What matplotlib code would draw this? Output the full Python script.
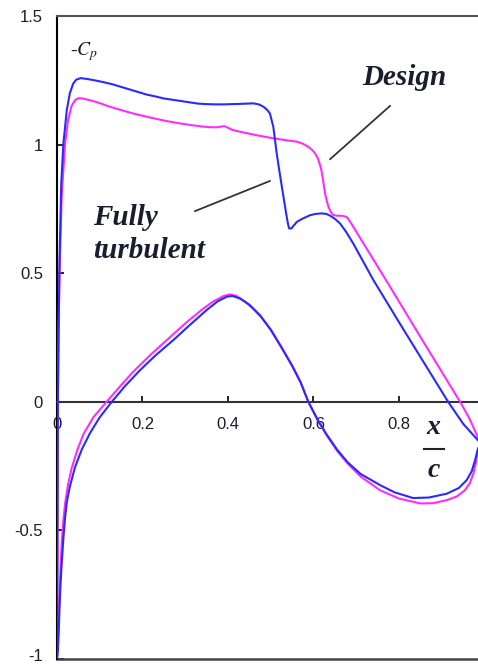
import matplotlib
matplotlib.use("Agg")
import matplotlib.pyplot as plt
from matplotlib.transforms import ScaledTranslation

# -Cp along the chord, upper and lower surfaces
turb_upper_x = [0.0, 0.001, 0.002, 0.004, 0.006, 0.01, 0.015, 0.023, 0.03, 0.038,
                0.045, 0.055, 0.07, 0.09, 0.11, 0.13, 0.15, 0.17, 0.19, 0.21,
                0.23, 0.25, 0.27, 0.29, 0.31, 0.33, 0.35, 0.37, 0.39, 0.41,
                0.43, 0.459, 0.472, 0.483, 0.492, 0.498, 0.502, 0.506, 0.514, 0.52,
                0.526, 0.531, 0.536, 0.54, 0.543, 0.548, 0.554, 0.561, 0.575, 0.592,
                0.605, 0.619, 0.63, 0.639, 0.65, 0.662, 0.676, 0.693, 0.74, 0.80,
                0.85, 0.915, 0.95, 0.985, 1.0]
turb_upper_y = [-1.0, -0.6, 0.0, 0.3, 0.55, 0.85, 1.005, 1.135, 1.2, 1.238,
                1.253, 1.259, 1.256, 1.25, 1.243, 1.235, 1.225, 1.215, 1.205, 1.195,
                1.188, 1.18, 1.175, 1.17, 1.165, 1.16, 1.158, 1.157, 1.157, 1.158,
                1.159, 1.161, 1.157, 1.148, 1.135, 1.122, 1.096, 1.07, 0.966, 0.9,
                0.837, 0.785, 0.733, 0.695, 0.675, 0.674, 0.686, 0.70, 0.713, 0.726,
                0.731, 0.733, 0.731, 0.724, 0.712, 0.694, 0.662, 0.616, 0.474, 0.31,
                0.175, 0.0, -0.085, -0.15, -0.17]

turb_lower_x = [0.0, 0.002, 0.004, 0.006, 0.008, 0.011, 0.015, 0.019, 0.023, 0.03,
                0.042, 0.058, 0.077, 0.10, 0.128, 0.16, 0.194, 0.23, 0.272, 0.31,
                0.35, 0.375, 0.397, 0.41, 0.428, 0.45, 0.475, 0.50, 0.525, 0.55,
                0.57, 0.588, 0.61, 0.63, 0.655, 0.68, 0.71, 0.756, 0.79, 0.833,
                0.87, 0.912, 0.94, 0.958, 0.97, 0.978, 0.985, 1.0]
turb_lower_y = [-1.0, -0.97, -0.9, -0.8, -0.72, -0.63, -0.53, -0.45, -0.39, -0.33,
                -0.255, -0.185, -0.122, -0.06, 0.0, 0.063, 0.123, 0.18, 0.24, 0.298,
                0.357, 0.39, 0.409, 0.412, 0.402, 0.378, 0.337, 0.28, 0.212, 0.14,
                0.075, 0.0, -0.07, -0.125, -0.185, -0.235, -0.28, -0.324, -0.352, -0.374,
                -0.372, -0.357, -0.335, -0.305, -0.27, -0.227, -0.18, -0.16]

design_upper_x = [0.0, 0.001, 0.002, 0.004, 0.006, 0.011, 0.019, 0.026, 0.034, 0.042,
                  0.05, 0.06, 0.08, 0.10, 0.12, 0.14, 0.16, 0.18, 0.20, 0.22,
                  0.24, 0.26, 0.28, 0.30, 0.32, 0.34, 0.36, 0.375, 0.385, 0.392,
                  0.40, 0.41, 0.43, 0.45, 0.47, 0.49, 0.506, 0.53, 0.561, 0.575,
                  0.588, 0.597, 0.604, 0.61, 0.614, 0.618, 0.621, 0.624, 0.627, 0.631,
                  0.635, 0.64, 0.646, 0.655, 0.665, 0.672, 0.679, 0.686, 0.693, 0.72,
                  0.771, 0.85, 0.943, 0.965, 0.985, 1.0]
design_upper_y = [-1.0, -0.6, 0.0, 0.3, 0.5, 0.8, 1.005, 1.096, 1.15, 1.173,
                  1.181, 1.18, 1.172, 1.162, 1.15, 1.14, 1.13, 1.121, 1.113, 1.105,
                  1.098, 1.091, 1.085, 1.08, 1.075, 1.071, 1.068, 1.068, 1.071, 1.072,
                  1.066, 1.058, 1.05, 1.043, 1.036, 1.03, 1.025, 1.019, 1.012, 1.004,
                  0.992, 0.98, 0.966, 0.948, 0.928, 0.905, 0.876, 0.845, 0.811, 0.782,
                  0.759, 0.74, 0.727, 0.724, 0.724, 0.722, 0.717, 0.70, 0.681, 0.608,
                  0.47, 0.253, 0.0, -0.065, -0.14, -0.16]

design_lower_x = [0.0, 0.002, 0.004, 0.007, 0.011, 0.015, 0.019, 0.026, 0.034, 0.047,
                  0.062, 0.085, 0.116, 0.15, 0.18, 0.22, 0.26, 0.30, 0.34, 0.365,
                  0.39, 0.405, 0.42, 0.44, 0.46, 0.48, 0.50, 0.525, 0.55, 0.57,
                  0.588, 0.61, 0.63, 0.655, 0.68, 0.71, 0.756, 0.80, 0.85, 0.88,
                  0.912, 0.935, 0.954, 0.966, 0.974, 0.98, 0.984, 1.0]
design_lower_y = [-1.0, -0.93, -0.83, -0.7, -0.55, -0.46, -0.395, -0.32, -0.26, -0.19,
                  -0.125, -0.06, 0.0, 0.065, 0.12, 0.185, 0.245, 0.305, 0.36, 0.39,
                  0.412, 0.418, 0.412, 0.39, 0.36, 0.325, 0.282, 0.213, 0.142, 0.077,
                  0.0, -0.072, -0.128, -0.19, -0.24, -0.29, -0.344, -0.376, -0.395, -0.394,
                  -0.382, -0.368, -0.344, -0.315, -0.279, -0.235, -0.19, -0.16]

x_ticks = [0, 0.2, 0.4, 0.6, 0.8]
x_labels = ["0", "0.2", "0.4", "0.6", "0.8"]
y_ticks = [-1, -0.5, 0, 0.5, 1, 1.5]
y_labels = ["-1", "-0.5", "0", "0.5", "1", "1.5"]

BLUE = "#2a2aff"
MAGENTA = "#ff2cff"
INK = "#1c1c30"

plt.rcParams["mathtext.fontset"] = "stix"

fig = plt.figure(figsize=(4.78, 6.66), dpi=100)
ax = fig.add_axes([0.1192, 0.0105, 0.8944, 0.9652])

ax.plot(design_upper_x, design_upper_y, color=MAGENTA, lw=1.5, zorder=3)
ax.plot(design_lower_x, design_lower_y, color=MAGENTA, lw=1.5, zorder=3)
ax.plot(turb_upper_x, turb_upper_y, color=BLUE, lw=1.5, zorder=4)
ax.plot(turb_lower_x, turb_lower_y, color=BLUE, lw=1.5, zorder=4)

ax.set_xlim(0, 1)
ax.set_ylim(-1, 1.5)

# x axis sits on Cp = 0, box closes at the bottom
ax.spines["bottom"].set_position(("data", 0))
ax.spines["right"].set_visible(False)
for s in ["left", "top", "bottom"]:
    ax.spines[s].set_linewidth(1.5)
ax.spines["top"].set_color("#555555")
ax.spines["bottom"].set_color("#333333")
ax.axhline(-1, color="#444444", lw=1.8, clip_on=False, zorder=2)

ax.set_xticks(x_ticks)
ax.set_xticklabels(x_labels)
ax.set_yticks(y_ticks)
ax.set_yticklabels(y_labels)
ax.tick_params(axis="x", direction="in", length=4, width=1.2, pad=11,
               labelsize=12, labelcolor=INK)
ax.tick_params(axis="y", direction="in", length=5, width=1.2, pad=10,
               labelsize=12, labelcolor=INK)
for lab in ax.get_xticklabels() + ax.get_yticklabels():
    lab.set_family("Liberation Sans")

# lift the bottom "-1" a little so it stays inside the figure
low = ax.get_yticklabels()[0]
low.set_transform(low.get_transform() + ScaledTranslation(0, 3 / 72, fig.dpi_scale_trans))

serif = dict(family="Liberation Serif", style="italic", weight="bold", color=INK)
ax.text(0.03, 1.349, r"-$C_p$", fontsize=14, color=INK, family="Liberation Serif")
ax.text(0.713, 1.232, "Design", fontsize=21, **serif)
ax.text(0.084, 0.688, "Fully", fontsize=21, **serif)
ax.text(0.084, 0.558, "turbulent", fontsize=21, **serif)

# leader lines
ax.plot([0.779, 0.639], [1.151, 0.944], color="#333333", lw=1.3)
ax.plot([0.323, 0.498], [0.742, 0.859], color="#333333", lw=1.3)

# x/c axis label
ax.text(0.881, -0.099, "x", fontsize=20, ha="center", va="center", **serif)
ax.plot([0.858, 0.905], [-0.182, -0.182], color="#222222", lw=1.5, clip_on=False)
ax.text(0.881, -0.266, "c", fontsize=20, ha="center", va="center", **serif)

fig.savefig("out.png", dpi=100)
